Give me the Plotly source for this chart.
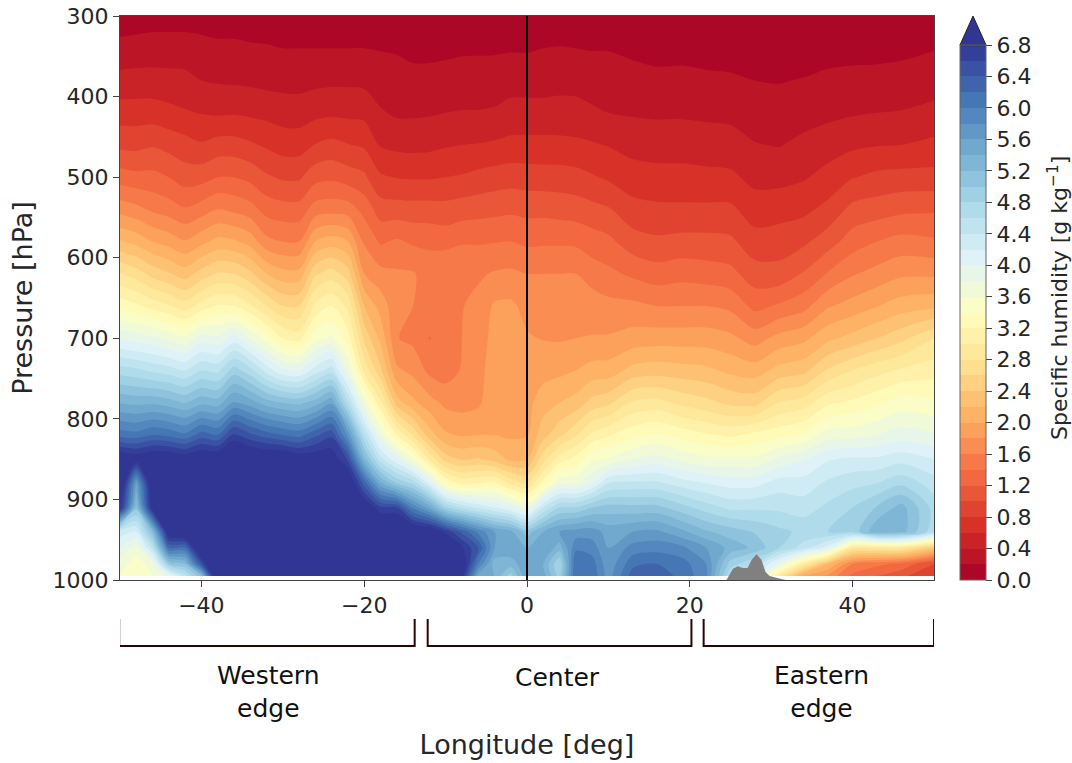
import plotly.graph_objects as go

pressures = [300, 340, 380, 420, 460, 500, 540, 580, 620, 660, 700, 740, 780, 820, 850, 880, 910, 940, 960, 980, 995]

longitudes = [-50, -48, -46, -44, -42, -40, -38, -36, -34, -32, -30, -28, -26, -24, -22, -20, -18, -16, -14, -12, -10, -8, -6, -4, -2,
              0, 2, 4, 6, 8, 10, 13, 16, 19, 22, 25, 28, 31, 34, 37, 40, 43, 46, 50]

q_w50 = [.05, .28, .46, .70, .95, 1.30, 1.72, 2.22, 2.81, 3.33, 3.97, 4.70, 5.39, 6.12, 7.1, 7.3, 6.9, 4.3, 4.0, 3.7, 3.6]
q_w48 = [.08, .29, .47, .70, .94, 1.26, 1.66, 2.13, 2.70, 3.24, 3.90, 4.65, 5.35, 6.08, 7.0, 5.6, 5.1, 4.2, 3.7, 3.5, 3.5]
q_w46 = [.10, .30, .47, .70, .98, 1.26, 1.56, 2.00, 2.53, 3.12, 3.85, 4.56, 5.36, 6.20, 7.1, 7.2, 7.0, 5.2, 4.5, 3.7, 3.6]
q_w44 = [.10, .30, .46, .66, .93, 1.20, 1.50, 1.92, 2.42, 3.02, 3.75, 4.50, 5.30, 6.15, 7.1, 7.3, 7.4, 7.1, 6.2, 5.0, 3.9]
q_w42 = [.10, .30, .45, .62, .88, 1.10, 1.42, 1.82, 2.30, 2.90, 3.65, 4.40, 5.20, 6.05, 7.0, 7.4, 7.5, 7.3, 6.2, 5.2, 4.5]
q_w40 = [.09, .28, .40, .59, .82, 1.12, 1.50, 1.94, 2.48, 3.08, 3.90, 4.60, 5.35, 6.30, 7.1, 7.5, 7.5, 7.5, 7.3, 6.5, 5.2]
q_w38 = [.08, .25, .38, .57, .88, 1.20, 1.60, 2.06, 2.62, 3.22, 3.85, 4.55, 5.30, 6.20, 7.1, 7.5, 7.6, 7.6, 7.6, 7.6, 7.4]
q_w36 = [.08, .25, .37, .58, .88, 1.20, 1.55, 2.03, 2.60, 3.20, 4.08, 4.90, 5.63, 6.65, 7.3, 7.5, 7.6, 7.6, 7.4, 7.0, 7.4]
q_w34 = [.07, .23, .36, .56, .83, 1.14, 1.48, 1.92, 2.45, 3.03, 3.80, 4.68, 5.50, 6.45, 7.2, 7.5, 7.6, 7.6, 7.6, 7.6, 7.6]
q_w32 = [.07, .22, .34, .54, .77, 1.03, 1.32, 1.66, 2.20, 2.80, 3.50, 4.32, 5.30, 6.30, 7.15, 7.5, 7.6, 7.6, 7.6, 7.6, 7.6]
q_w30 = [.06, .20, .33, .51, .71, .97, 1.28, 1.60, 2.07, 2.60, 3.20, 4.05, 5.20, 6.20, 7.15, 7.5, 7.6, 7.6, 7.6, 7.6, 7.6]
q_w28 = [.05, .20, .33, .50, .71, .97, 1.28, 1.60, 2.07, 2.60, 3.12, 4.00, 5.15, 6.13, 7.0, 7.4, 7.6, 7.6, 7.6, 7.6, 7.6]
q_w26 = [.05, .20, .35, .54, .81, 1.13, 1.49, 2.00, 2.57, 3.05, 3.52, 4.30, 5.30, 6.35, 7.0, 7.4, 7.6, 7.6, 7.6, 7.6, 7.6]
q_w24 = [.05, .20, .36, .56, .86, 1.16, 1.52, 2.10, 2.70, 3.20, 3.65, 4.50, 5.56, 6.55, 7.0, 7.4, 7.6, 7.6, 7.6, 7.6, 7.6]
q_w22 = [.05, .20, .36, .55, .81, 1.10, 1.50, 2.00, 2.50, 2.95, 3.30, 3.80, 4.65, 5.75, 6.55, 7.2, 7.5, 7.6, 7.6, 7.6, 7.6]
q_w20 = [.05, .20, .35, .54, .77, 1.04, 1.33, 1.57, 1.80, 2.20, 2.55, 2.95, 3.70, 4.60, 5.30, 6.3, 7.1, 7.5, 7.6, 7.6, 7.6]
q_w18 = [.05, .19, .30, .42, .58, .83, 1.10, 1.37, 1.67, 1.92, 2.15, 2.45, 3.05, 3.78, 4.47, 5.45, 6.65, 7.3, 7.6, 7.6, 7.6]
q_w16 = [.05, .18, .28, .37, .55, .79, 1.09, 1.43, 1.63, 1.66, 1.61, 1.84, 2.30, 3.20, 4.05, 5.0, 6.6, 7.4, 7.6, 7.6, 7.6]
q_w14 = [.04, .14, .27, .37, .54, .78, 1.08, 1.37, 1.62, 1.60, 1.55, 1.74, 2.05, 2.76, 3.58, 4.75, 5.95, 7.2, 7.5, 7.6, 7.6]
q_w12 = [.04, .14, .27, .38, .55, .78, 1.08, 1.36, 1.51, 1.56, 1.39, 1.55, 1.88, 2.30, 2.97, 4.15, 5.5, 7.1, 7.4, 7.6, 7.6]
q_w10 = [.04, .16, .27, .40, .58, .80, 1.07, 1.33, 1.60, 1.50, 1.47, 1.50, 1.75, 2.03, 2.50, 3.4, 4.85, 6.75, 7.2, 7.5, 7.6]
q_w08 = [.04, .17, .29, .41, .60, .82, 1.10, 1.38, 1.58, 1.59, 1.60, 1.62, 1.72, 1.98, 2.37, 3.15, 4.55, 6.35, 6.85, 7.1, 6.9]
q_w06 = [.04, .17, .30, .41, .61, .86, 1.12, 1.38, 1.57, 1.66, 1.70, 1.73, 1.76, 2.00, 2.42, 3.2, 4.35, 5.95, 6.4, 6.0, 5.5]
q_w04 = [.04, .17, .31, .42, .63, .89, 1.14, 1.39, 1.62, 1.83, 1.87, 1.90, 1.95, 2.00, 2.32, 3.25, 4.2, 5.6, 5.6, 5.3, 5.4]
q_w02 = [.04, .18, .33, .46, .66, .91, 1.16, 1.40, 1.64, 1.84, 1.86, 1.88, 1.92, 1.97, 2.15, 2.95, 4.0, 5.45, 5.55, 5.3, 4.9]
q_c00 = [.03, .18, .32, .47, .66, .90, 1.14, 1.36, 1.60, 1.74, 1.82, 1.88, 1.94, 1.98, 2.19, 2.8, 3.75, 5.1, 5.4, 5.55, 5.6]
q_e02 = [.04, .20, .32, .47, .66, .89, 1.14, 1.37, 1.60, 1.72, 1.79, 1.93, 2.10, 2.33, 2.72, 3.28, 4.4, 5.4, 5.6, 5.4, 5.5]
q_e04 = [.05, .21, .33, .48, .65, .89, 1.12, 1.37, 1.60, 1.70, 1.78, 1.95, 2.20, 2.55, 3.10, 3.75, 4.8, 5.6, 5.3, 4.8, 4.9]
q_e06 = [.04, .20, .33, .47, .64, .87, 1.10, 1.36, 1.60, 1.70, 1.80, 2.00, 2.28, 2.77, 3.27, 3.75, 4.82, 5.68, 5.95, 6.2, 6.2]
q_e08 = [.03, .19, .31, .43, .62, .82, 1.06, 1.30, 1.50, 1.72, 1.81, 2.08, 2.47, 3.05, 3.55, 4.0, 5.0, 5.7, 5.9, 6.1, 6.15]
q_e10 = [.03, .19, .30, .40, .59, .77, 1.02, 1.25, 1.45, 1.66, 1.82, 2.09, 2.55, 3.17, 3.62, 4.4, 5.08, 5.52, 5.6, 5.65, 5.7]
q_e13 = [.03, .16, .27, .38, .53, .69, .87, 1.09, 1.36, 1.65, 1.88, 2.27, 2.83, 3.34, 3.80, 4.44, 5.06, 5.6, 5.88, 6.15, 6.3]
q_e16 = [.03, .12, .26, .37, .51, .67, .84, 1.04, 1.29, 1.60, 1.90, 2.31, 2.87, 3.43, 3.88, 4.44, 5.06, 5.64, 5.92, 6.2, 6.3]
q_e19 = [.03, .13, .26, .37, .52, .66, .84, 1.06, 1.33, 1.60, 1.90, 2.28, 2.75, 3.32, 3.75, 4.3, 4.88, 5.45, 5.85, 6.1, 6.15]
q_e22 = [.02, .12, .24, .36, .50, .65, .84, 1.06, 1.30, 1.60, 1.90, 2.25, 2.66, 3.23, 3.65, 4.2, 4.7, 5.23, 5.6, 5.8, 5.85]
q_e25 = [.02, .11, .23, .35, .48, .64, .84, 1.04, 1.26, 1.55, 1.85, 2.15, 2.55, 3.16, 3.65, 4.12, 4.55, 5.1, 5.33, 4.9, 4.6]
q_e28 = [.02, .09, .20, .30, .41, .54, .70, .88, 1.09, 1.34, 1.71, 2.10, 2.53, 3.26, 3.65, 4.13, 4.56, 4.98, 5.15, 4.6, 4.3]
q_e31 = [.02, .09, .19, .29, .39, .54, .72, .90, 1.07, 1.43, 1.87, 2.27, 2.81, 3.33, 3.85, 4.3, 4.55, 4.85, 4.8, 3.9, 2.9]
q_e34 = [.02, .10, .21, .32, .45, .58, .75, .96, 1.22, 1.53, 1.95, 2.34, 2.90, 3.43, 3.98, 4.29, 4.5, 4.75, 4.5, 3.0, 1.95]
q_e37 = [.02, .13, .24, .35, .51, .67, .86, 1.11, 1.42, 1.78, 2.15, 2.63, 3.16, 3.70, 4.18, 4.44, 4.65, 4.8, 4.1, 2.2, 1.75]
q_e40 = [.02, .13, .26, .38, .56, .79, 1.06, 1.30, 1.58, 1.88, 2.27, 2.80, 3.24, 3.72, 4.24, 4.54, 4.8, 4.85, 2.9, 1.6, 1.35]
q_e43 = [.02, .13, .27, .40, .59, .85, 1.10, 1.40, 1.67, 1.99, 2.40, 2.93, 3.35, 3.80, 4.24, 4.6, 5.02, 5.37, 2.9, 1.45, 1.2]
q_e46 = [.02, .15, .28, .41, .60, .87, 1.15, 1.47, 1.76, 2.10, 2.54, 3.03, 3.49, 3.90, 4.32, 4.75, 5.28, 5.3, 2.9, 1.35, 1.05]
q_e50 = [.02, .19, .32, .45, .65, .87, 1.17, 1.43, 1.76, 2.15, 2.80, 3.11, 3.44, 3.82, 4.20, 4.5, 4.72, 4.65, 2.4, 1.0, .8]

columns = [q_w50, q_w48, q_w46, q_w44, q_w42, q_w40, q_w38, q_w36, q_w34, q_w32, q_w30, q_w28, q_w26, q_w24, q_w22, q_w20,
           q_w18, q_w16, q_w14, q_w12, q_w10, q_w08, q_w06, q_w04, q_w02, q_c00, q_e02, q_e04, q_e06, q_e08, q_e10, q_e13,
           q_e16, q_e19, q_e22, q_e25, q_e28, q_e31, q_e34, q_e37, q_e40, q_e43, q_e46, q_e50]
humidity = [list(row) for row in zip(*columns)]

terrain_lon = [24.5, 24.9, 25.3, 25.9, 26.5, 27.1, 27.6, 28.2, 28.8, 29.3, 29.8, 31.0, 31.8, 24.5]
terrain_p = [1000, 992, 986, 983, 985, 985, 975, 968, 975, 990, 995, 998, 1000, 1000]

pressure_ticks = [300, 400, 500, 600, 700, 800, 900, 1000]
longitude_ticks = [-40, -20, 0, 20, 40]
regions = [("Western<br>edge", -50.1, -13.8, -31.8), ("Center", -12.2, 20.2, 3.8), ("Eastern<br>edge", 21.7, 50, 36.2)]

rdylbu = ["#a50026", "#d73027", "#f46d43", "#fdae61", "#fee090", "#ffffbf", "#e0f3f8", "#abd9e9", "#74add1", "#4575b4", "#313695"]
colorscale = [[i / 10, c] for i, c in enumerate(rdylbu)]

W, H = 1072, 763
L, R, T, B = 120, 934, 16, 580
def px(x): return (x - L) / (R - L)
def py(y): return (B - y) / (B - T)

FONT = "DejaVu Sans"
TXT = "#262626"

fig = go.Figure()
fig.add_trace(go.Contour(
    x=longitudes, y=pressures, z=humidity,
    zmin=0, zmax=6.8, colorscale=colorscale, autocontour=False,
    contours=dict(start=0, end=6.8, size=0.2, coloring="fill", showlines=False),
    line=dict(width=0, smoothing=0.9),
    colorbar=dict(
        x=px(960), xanchor="left", xpad=0, y=0, yanchor="bottom", ypad=0,
        lenmode="pixels", len=B - 45, thicknessmode="pixels", thickness=26,
        tick0=0, dtick=0.4, tickformat=".1f", ticks="outside", ticklen=6, tickcolor="#444",
        outlinecolor="#666", outlinewidth=1,
        tickfont=dict(family=FONT, size=22, color=TXT),
    ),
    hoverinfo="skip",
))
fig.add_trace(go.Scatter(x=terrain_lon, y=terrain_p, mode="lines", fill="toself", fillcolor="#808080",
                         line=dict(width=0, color="#808080"), showlegend=False, hoverinfo="skip"))
fig.add_trace(go.Scatter(x=[0, 0], y=[300, 1000], mode="lines", line=dict(color="black", width=2),
                         showlegend=False, hoverinfo="skip"))

shapes = [dict(type="path", xref="paper", yref="paper",
               path=f"M {px(960)} {py(45)} L {px(973)} {py(16)} L {px(986)} {py(45)} Z",
               fillcolor="#313695", line=dict(color="#222", width=1))]
annotations = [dict(x=px(1058), xref="paper", y=py(298), yref="paper", text="Specific humidity [g kg<sup>−1</sup>]",
                    textangle=-90, showarrow=False, xanchor="center", yanchor="middle",
                    font=dict(family=FONT, size=22, color=TXT))]
for name, lon_a, lon_b, lon_text in regions:
    shapes.append(dict(type="path", xref="x", yref="paper",
                       path=f"M {lon_a} {py(619)} L {lon_a} {py(646)} L {lon_b} {py(646)} L {lon_b} {py(619)}",
                       line=dict(color="#2a0505", width=2)))
    annotations.append(dict(x=lon_text, xref="x", y=py(692 if "<br>" in name else 677), yref="paper",
                            text=name, showarrow=False, align="center", yanchor="middle",
                            font=dict(family=FONT, size=25, color="#111")))

fig.update_layout(
    width=W, height=H, autosize=False,
    margin=dict(l=L, r=W - R, t=T, b=H - B),
    paper_bgcolor="white", plot_bgcolor="white",
    font=dict(family=FONT, color=TXT),
    showlegend=False, shapes=shapes, annotations=annotations,
    xaxis=dict(range=[-50, 50], tickvals=longitude_ticks, ticktext=["−40", "−20", "0", "20", "40"],
               ticks="outside", ticklen=6, tickcolor="#444", showgrid=False, zeroline=False,
               showline=True, linecolor="#444", linewidth=1, mirror=True,
               tickfont=dict(size=22), automargin=False,
               title=dict(text="Longitude [deg]", standoff=117, font=dict(size=27, color=TXT))),
    yaxis=dict(range=[1000, 300], tickvals=pressure_ticks,
               ticks="outside", ticklen=6, tickcolor="#444", showgrid=False, zeroline=False,
               showline=True, linecolor="#444", linewidth=1, mirror=True,
               tickfont=dict(size=22), automargin=False,
               title=dict(text="Pressure [hPa]", standoff=12, font=dict(size=27, color=TXT))),
)

fig.write_html("out.html", post_script="document.body.style.margin='0';", config={"displayModeBar": False})
